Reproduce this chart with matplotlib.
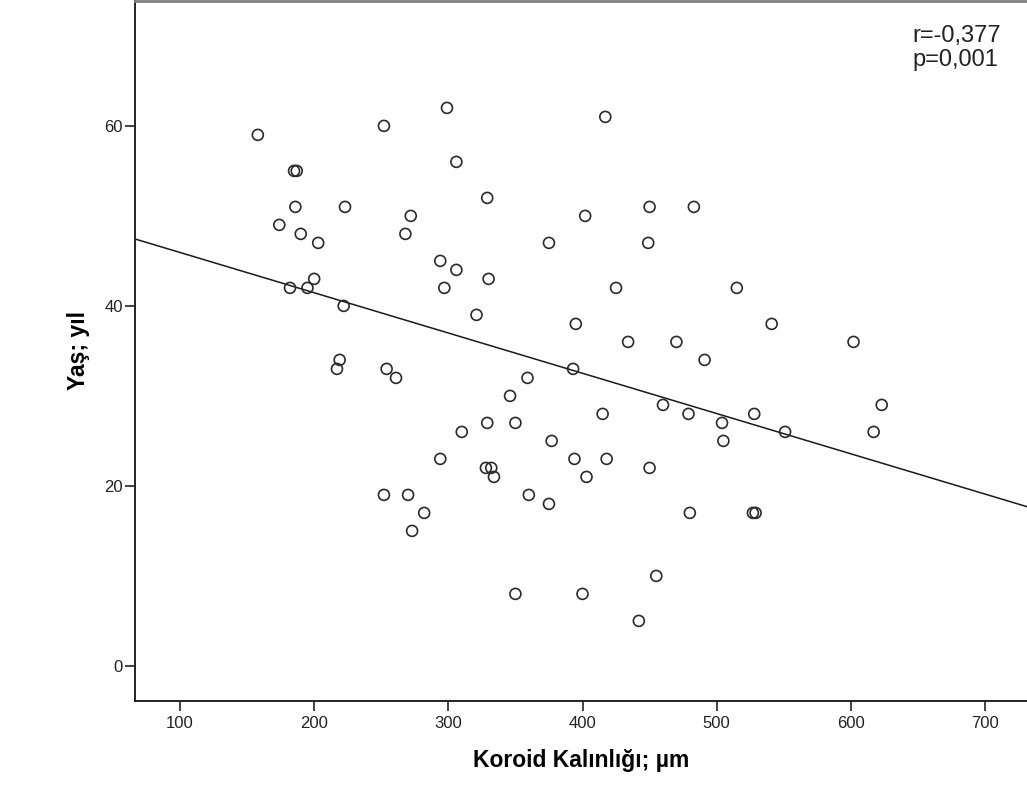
import numpy as np
import matplotlib
matplotlib.use("Agg")
import matplotlib.pyplot as plt

plt.rcParams["font.family"] = ["Liberation Sans", "DejaVu Sans"]

# choroid thickness (um) vs age (years)
koroid = [158, 252, 299, 185, 187, 306, 329, 186, 223, 174, 272, 190, 268, 203,
          294, 306, 200, 330, 182, 195, 297, 222, 321, 219, 217, 254, 261, 346,
          417, 402, 450, 483, 375, 449, 425, 515, 395, 541, 434, 470, 602, 491,
          393, 359, 329, 350, 310, 294, 328, 332, 334, 252, 270, 282, 273, 350,
          377, 415, 460, 479, 504, 528, 505, 551, 623, 617, 394, 418, 450, 403,
          360, 375, 480, 527, 529, 455, 400, 442]
yas = [59, 60, 62, 55, 55, 56, 52, 51, 51, 49, 50, 48, 48, 47,
       45, 44, 43, 43, 42, 42, 42, 40, 39, 34, 33, 33, 32, 30,
       61, 50, 51, 51, 47, 47, 42, 42, 38, 38, 36, 36, 36, 34,
       33, 32, 27, 27, 26, 23, 22, 22, 21, 19, 19, 17, 15, 8,
       25, 28, 29, 28, 27, 28, 25, 26, 29, 26, 23, 23, 22, 21,
       19, 18, 17, 17, 17, 10, 8, 5]

x_ticks = [100, 200, 300, 400, 500, 600, 700]
y_ticks = [0, 20, 40, 60]
stats_text = "r=-0,377\np=0,001"

fig = plt.figure(figsize=(10.27, 7.85), dpi=100)
ax = fig.add_axes([0.1315, 0.107, 0.8685, 0.892])

ax.scatter(koroid, yas, s=62, facecolors="none", edgecolors="#2a2a2a",
           linewidths=1.2, zorder=3)

# least squares fit line across the whole x range
xmin, xmax = 66.5, 731.3
slope, intercept = np.polyfit(koroid, yas, 1)
xs = np.array([xmin, xmax])
ax.plot(xs, intercept + slope * xs, color="#1a1a1a", linewidth=1.1, zorder=2)

ax.set_xlim(xmin, xmax)
ax.set_ylim(-3.9, 73.9)
ax.set_xticks(x_ticks)
ax.set_yticks(y_ticks)
ax.tick_params(direction="out", length=7.3, width=1.2, labelsize=12,
               colors="#222222")
ax.tick_params(axis="x", pad=3.5)
ax.tick_params(axis="y", pad=1.5)

ax.spines["right"].set_visible(False)
ax.spines["top"].set_color("#808080")
ax.spines["top"].set_linewidth(2)
for side in ["left", "bottom"]:
    ax.spines[side].set_color("#222222")
    ax.spines[side].set_linewidth(1.4)

ax.set_xlabel("Koroid Kalınlığı; µm", fontsize=16.5, fontweight="bold")
ax.set_ylabel("Yaş; yıl", fontsize=16.5, fontweight="bold")
ax.xaxis.set_label_coords(0.5, -0.068)
ax.yaxis.set_label_coords(-0.051, 0.5)

ax.text(0.872, 0.965, stats_text, transform=ax.transAxes, fontsize=17,
        ha="left", va="top", linespacing=1.08, color="#222222")

plt.savefig("out.png", dpi=100)
